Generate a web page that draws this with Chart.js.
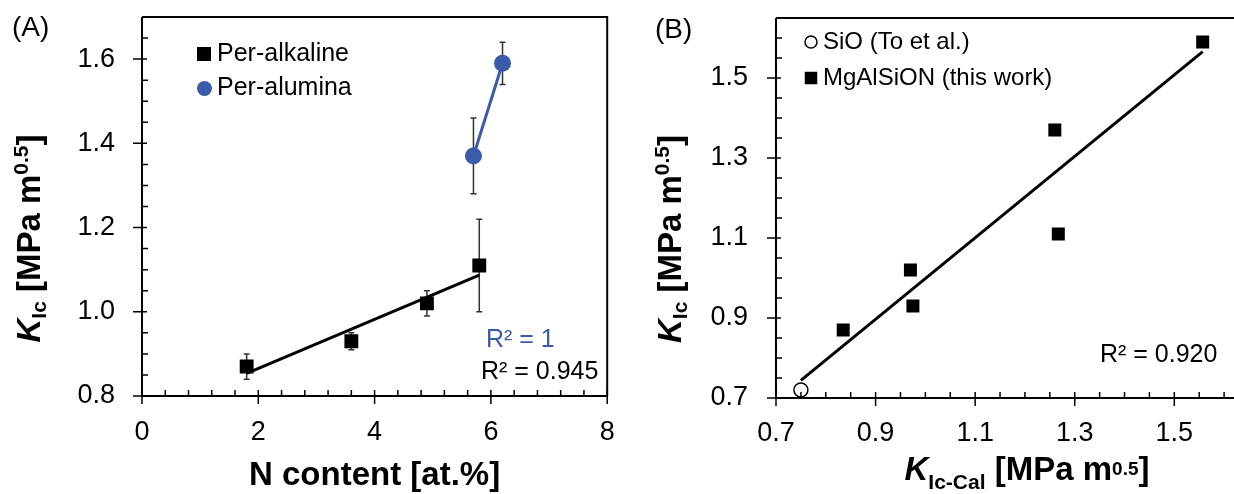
<!DOCTYPE html>
<html>
<head>
<meta charset="utf-8">
<script src="https://cdn.jsdelivr.net/npm/chart.js@4.4.1/dist/chart.umd.min.js"></script>
<style>
  html, body { margin: 0; padding: 0; background: #fff; overflow: hidden; width: 1234px; height: 494px; }
  canvas { position: absolute; top: 0; }
  #chartA { left: 0; }
  #chartB { left: 617px; }
</style>
</head>
<body>
<canvas id="chartA" width="617" height="494"></canvas>
<canvas id="chartB" width="650" height="494"></canvas>
<script>
// (A) N content vs K_Ic
const alkalineN = [1.8, 3.6, 4.9, 5.8]
const alkalineK = [0.87, 0.93, 1.02, 1.11]
const alkalineLo = [0.84, 0.91, 0.99, 1.00]
const alkalineHi = [0.90, 0.95, 1.05, 1.22]
const aluminaN = [5.7, 6.2]
const aluminaK = [1.37, 1.59]
const aluminaLo = [1.28, 1.54]
const aluminaHi = [1.46, 1.64]
const alkalineFitN = [1.8, 5.8]
const alkalineFitK = [0.854, 1.087]
const xTicksA = [0, 2, 4, 6, 8]
const yTicksA = [0.8, 1.0, 1.2, 1.4, 1.6]

// (B) K_Ic-Cal vs K_Ic
const sioCal = [0.75]
const sioK = [0.72]
const mgCal = [0.835, 0.97, 0.975, 1.26, 1.267, 1.557]
const mgK = [0.87, 1.02, 0.93, 1.37, 1.11, 1.59]
const fitCalB = [0.75, 1.557]
const fitKB = [0.744, 1.566]
const xTicksB = [0.7, 0.9, 1.1, 1.3, 1.5]
const yTicksB = [0.7, 0.9, 1.1, 1.3, 1.5]

const FONT = '"Liberation Sans", Arial, Helvetica, sans-serif'
const BLUE = '#3A5BA9'

function pts(xs, ys) {
    return xs.map((x, i) => ({x: x, y: ys[i]}))
}

// fixed scale size, no extra label padding pushed into the layout
function fixSize(w, h) {
    return s => {
        if (w != null) s.width = w
        if (h != null) s.height = h
        s.paddingTop = 0; s.paddingBottom = 0; s.paddingLeft = 0; s.paddingRight = 0
    }
}

function richText(ctx, parts, x, y, rot) {
    ctx.save()
    ctx.translate(x, y)
    ctx.rotate(rot)
    ctx.textAlign = 'left'
    ctx.textBaseline = 'alphabetic'
    ctx.fillStyle = '#000'
    let total = 0
    parts.forEach(p => { ctx.font = p[1]; total += ctx.measureText(p[0]).width })
    let cx = -total / 2
    parts.forEach(p => {
        ctx.font = p[1]
        ctx.fillText(p[0], cx, p[2])
        cx += ctx.measureText(p[0]).width
    })
    ctx.restore()
}

// axes box, major/minor ticks, error bars, legend and notes
function makeFrame(cfg) {
    return {
        id: 'frame',
        beforeDatasetsDraw(chart) {
            const ctx = chart.ctx, sx = chart.scales.x, sy = chart.scales.y
            ctx.save()
            ctx.strokeStyle = '#333'
            ctx.lineWidth = 1.5
            ;(cfg.errors || []).forEach(e => {
                e.xs.forEach((xv, i) => {
                    const px = sx.getPixelForValue(xv)
                    const y1 = sy.getPixelForValue(e.lo[i]), y2 = sy.getPixelForValue(e.hi[i])
                    ctx.beginPath()
                    ctx.moveTo(px, y1); ctx.lineTo(px, y2)
                    ctx.moveTo(px - 3, y1); ctx.lineTo(px + 3, y1)
                    ctx.moveTo(px - 3, y2); ctx.lineTo(px + 3, y2)
                    ctx.stroke()
                })
            })
            ctx.restore()
        },
        afterDraw(chart) {
            const ctx = chart.ctx, a = chart.chartArea, sx = chart.scales.x, sy = chart.scales.y
            ctx.save()
            ctx.strokeStyle = '#000'
            ctx.lineWidth = 2
            ctx.beginPath()
            ctx.moveTo(a.left, a.top); ctx.lineTo(a.left, a.bottom); ctx.lineTo(a.right, a.bottom)
            ctx.moveTo(a.left, a.top); ctx.lineTo(a.right, a.top); ctx.lineTo(a.right, a.bottom)
            ctx.stroke()

            const isMajor = (v, list) => list.some(m => Math.abs(m - v) < 1e-6)
            ctx.lineWidth = 1.5
            ctx.beginPath()
            const nx = Math.round((sx.max - sx.min) / cfg.xMinor)
            for (let i = 0; i <= nx; i++) {
                const v = sx.min + i * cfg.xMinor
                const px = sx.getPixelForValue(v)
                if (isMajor(v, cfg.xMajor)) { ctx.moveTo(px, a.bottom - 6); ctx.lineTo(px, a.bottom + 8) }
                else { ctx.moveTo(px, a.bottom - 6); ctx.lineTo(px, a.bottom) }
            }
            const ny = Math.round((sy.max - sy.min) / cfg.yMinor)
            for (let i = 0; i <= ny; i++) {
                const v = sy.min + i * cfg.yMinor
                const py = sy.getPixelForValue(v)
                if (isMajor(v, cfg.yMajor)) { ctx.moveTo(a.left - 9, py); ctx.lineTo(a.left + 5, py) }
                else { ctx.moveTo(a.left, py); ctx.lineTo(a.left + 6, py) }
            }
            ctx.stroke()

            // legend
            cfg.legend.forEach(l => {
                ctx.beginPath()
                if (l.shape === 'rect') {
                    ctx.fillStyle = l.fill
                    ctx.fillRect(l.x - l.size / 2, l.y - l.size / 2, l.size, l.size)
                } else {
                    ctx.arc(l.x, l.y, l.size / 2, 0, Math.PI * 2)
                    ctx.fillStyle = l.fill
                    ctx.fill()
                    if (l.stroke) { ctx.strokeStyle = l.stroke; ctx.lineWidth = 1.5; ctx.stroke() }
                }
                ctx.fillStyle = '#000'
                ctx.font = cfg.legendFont
                ctx.textAlign = 'left'
                ctx.textBaseline = 'middle'
                ctx.fillText(l.text, l.tx, l.y)
            })

            // notes
            cfg.notes.forEach(n => {
                ctx.fillStyle = n.color || '#000'
                ctx.font = n.font
                ctx.textAlign = 'left'
                ctx.textBaseline = 'middle'
                ctx.fillText(n.text, n.x, n.y)
            })

            // titles with sub/superscripts
            cfg.titles.forEach(t => richText(ctx, t.parts, t.x, t.y, t.rot))
            ctx.restore()
        }
    }
}

const B33 = 'bold 33px ' + FONT
const BI33 = 'italic bold 33px ' + FONT
const B21 = 'bold 21px ' + FONT
const B19 = 'bold 19px ' + FONT

function tickFont() {
    return {family: FONT, size: 27}
}

// ---------- chart A ----------
new Chart(document.getElementById('chartA').getContext('2d'), {
    type: 'scatter',
    data: {
        datasets: [
            {
                label: 'Per-alkaline',
                data: pts(alkalineN, alkalineK),
                pointStyle: 'rect',
                pointRadius: 9.8,
                pointBorderWidth: 0,
                backgroundColor: '#000',
                borderColor: '#000'
            },
            {
                label: 'Per-alumina',
                data: pts(aluminaN, aluminaK),
                showLine: true,
                pointStyle: 'circle',
                pointRadius: 8.5,
                pointBorderWidth: 0,
                backgroundColor: BLUE,
                borderColor: BLUE,
                borderWidth: 3
            },
            {
                label: 'fit',
                data: pts(alkalineFitN, alkalineFitK),
                showLine: true,
                pointRadius: 0,
                borderColor: '#000',
                borderWidth: 3
            }
        ]
    },
    options: {
        responsive: false,
        animation: false,
        events: [],
        devicePixelRatio: 1,
        layout: {padding: {left: 0, right: 6, top: 17, bottom: 0}},
        plugins: {legend: {display: false}, tooltip: {enabled: false}},
        scales: {
            x: {
                type: 'linear', min: 0, max: 8,
                afterBuildTicks: s => { s.ticks = xTicksA.map(v => ({value: v})) },
                afterFit: fixSize(null, 98),
                grid: {display: false, drawTicks: false},
                border: {display: false},
                ticks: {font: tickFont(), color: '#000', padding: 20, maxRotation: 0, callback: v => String(v)},
                title: {
                    display: true, text: 'N content [at.%]', color: '#000',
                    font: {family: FONT, size: 33, weight: 'bold'},
                    padding: {top: 0, bottom: -2}
                }
            },
            y: {
                type: 'linear', min: 0.8, max: 1.7,
                afterBuildTicks: s => { s.ticks = yTicksA.map(v => ({value: v})) },
                afterFit: fixSize(142, null),
                grid: {display: false, drawTicks: false},
                border: {display: false},
                ticks: {font: tickFont(), color: '#000', padding: 27, callback: v => v.toFixed(1)}
            }
        }
    },
    plugins: [makeFrame({
        xMajor: xTicksA, xMinor: 0.4, yMajor: yTicksA, yMinor: 0.05,
        legendFont: '25px ' + FONT,
        errors: [
            {xs: alkalineN, lo: alkalineLo, hi: alkalineHi},
            {xs: aluminaN, lo: aluminaLo, hi: aluminaHi}
        ],
        legend: [
            {shape: 'rect', x: 204, y: 54, size: 14, fill: '#000', text: 'Per-alkaline', tx: 217},
            {shape: 'circle', x: 204.5, y: 88.5, size: 15, fill: BLUE, text: 'Per-alumina', tx: 217}
        ],
        notes: [
            {text: '(A)', x: 12, y: 28, font: '28px ' + FONT},
            {text: 'R² = 1', x: 486, y: 340, font: '25px ' + FONT, color: BLUE},
            {text: 'R² = 0.945', x: 481, y: 372, font: '25px ' + FONT}
        ],
        titles: [
            {x: 40, y: 238.5, rot: -Math.PI / 2, parts: [
                ['K', BI33, 0], ['Ic', B21, 6], [' [MPa m', B33, 0], ['0.5', B21, -12], [']', B33, 0]
            ]}
        ]
    })]
})

// ---------- chart B ----------
new Chart(document.getElementById('chartB').getContext('2d'), {
    type: 'scatter',
    data: {
        datasets: [
            {
                label: 'SiO (To et al.)',
                data: pts(sioCal, sioK),
                pointStyle: 'circle',
                pointRadius: 7,
                pointBorderWidth: 1.5,
                backgroundColor: '#fff',
                borderColor: '#000'
            },
            {
                label: 'MgAlSiON (this work)',
                data: pts(mgCal, mgK),
                pointStyle: 'rect',
                pointRadius: 9.2,
                pointBorderWidth: 0,
                backgroundColor: '#000',
                borderColor: '#000'
            },
            {
                label: 'fit',
                data: pts(fitCalB, fitKB),
                showLine: true,
                pointRadius: 0,
                borderColor: '#000',
                borderWidth: 3
            }
        ]
    },
    options: {
        responsive: false,
        animation: false,
        events: [],
        devicePixelRatio: 1,
        layout: {padding: {left: 0, right: 18, top: 18, bottom: 0}},
        plugins: {legend: {display: false}, tooltip: {enabled: false}},
        scales: {
            x: {
                type: 'linear', min: 0.7, max: 1.65,
                afterBuildTicks: s => { s.ticks = xTicksB.map(v => ({value: v})) },
                afterFit: fixSize(null, 96),
                grid: {display: false, drawTicks: false},
                border: {display: false},
                ticks: {font: tickFont(), color: '#000', padding: 19, maxRotation: 0, callback: v => v.toFixed(1)}
            },
            y: {
                type: 'linear', min: 0.7, max: 1.65,
                afterBuildTicks: s => { s.ticks = yTicksB.map(v => ({value: v})) },
                afterFit: fixSize(159, null),
                grid: {display: false, drawTicks: false},
                border: {display: false},
                ticks: {font: tickFont(), color: '#000', padding: 28, callback: v => v.toFixed(1)}
            }
        }
    },
    plugins: [makeFrame({
        xMajor: xTicksB, xMinor: 0.05, yMajor: yTicksB, yMinor: 0.05,
        legendFont: '24px ' + FONT,
        errors: [],
        legend: [
            {shape: 'circle', x: 194, y: 42, size: 12, fill: '#fff', stroke: '#000', text: 'SiO (To et al.)', tx: 206},
            {shape: 'rect', x: 194, y: 78, size: 12.5, fill: '#000', text: 'MgAlSiON (this work)', tx: 206}
        ],
        notes: [
            {text: '(B)', x: 38, y: 30, font: '28px ' + FONT},
            {text: 'R² = 0.920', x: 483, y: 355, font: '25px ' + FONT}
        ],
        titles: [
            {x: 64, y: 239, rot: -Math.PI / 2, parts: [
                ['K', BI33, 0], ['Ic', B21, 6], [' [MPa m', B33, 0], ['0.5', B21, -12], [']', B33, 0]
            ]},
            {x: 410, y: 480, rot: 0, parts: [
                ['K', BI33, 0], ['Ic-Cal', B21, 9], [' [MPa m', B33, 0], ['0.5', B19, -5], [']', B33, 0]
            ]}
        ]
    })]
})
</script>
</body>
</html>
